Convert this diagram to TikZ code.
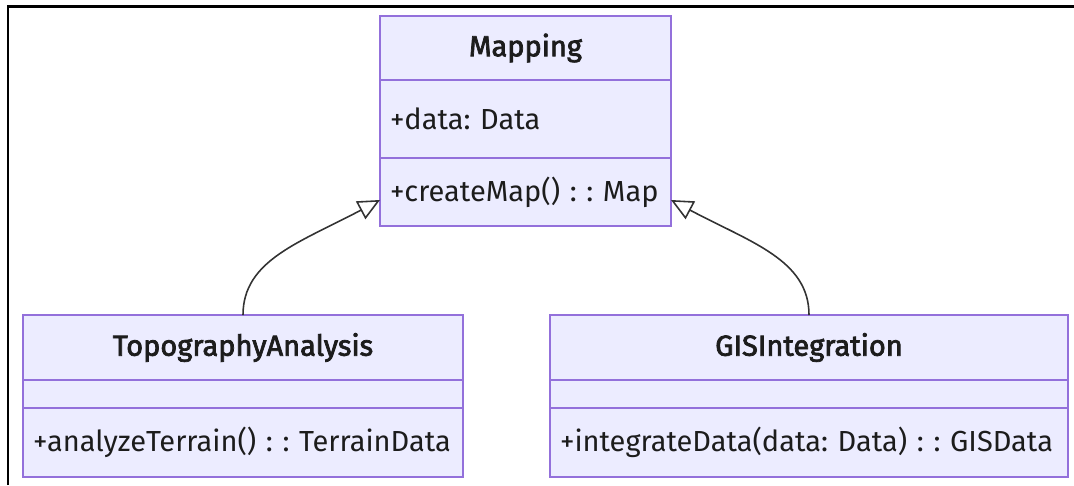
\documentclass[tikz,border=0pt]{standalone}
\usepackage{fontspec}
\setmainfont{Fira Sans}
\newfontfamily\titlefont{Fira Sans}[FakeBold=2.5]
\usepackage{tikz}
\usetikzlibrary{positioning, arrows.meta}

\definecolor{classfill}{HTML}{ECECFF}
\definecolor{classline}{HTML}{9370DB}
\definecolor{linkline}{HTML}{333333}
\definecolor{labeltext}{HTML}{1C1C1C}

\tikzset{
    part/.style={draw=classline, fill=classfill, line width=1pt, outer sep=0pt,
        inner xsep=0.2cm, inner ysep=0pt, text=labeltext,
        font=\fontsize{16.5}{19}\selectfont\frenchspacing},
    head/.style={part, align=center, font=\fontsize{16.5}{19}\selectfont\titlefont},
    body/.style={part, align=left},
    inherit/.style={draw=linkline, line width=0.9pt,
        -{Triangle[open, length=0.44cm, width=0.4cm, fill=white]}}
}

\begin{document}
\begin{tikzpicture}[x=0.02cm, y=-0.02cm]
    \useasboundingbox (0,0) rectangle (1074,485);

    % 1. Khung ngoài
    \draw[line width=0.06cm] (8,485) -- (8,6) -- (1074,6);

    % 2. Lớp Mapping
    \node[head, text width=5.42cm, minimum height=1.28cm] (mapHead) at (525.5,48) {Mapping};
    \node[body, text width=5.42cm, minimum height=1.56cm, below=0pt of mapHead] (mapAttr) {+data: Data};
    \node[body, text width=5.42cm, minimum height=1.36cm, below=0pt of mapAttr] (mapMeth) {+createMap() : : Map};

    % 3. Lớp TopographyAnalysis
    \node[head, text width=8.4cm, minimum height=1.3cm] (topoHead) at (243,347.5) {TopographyAnalysis};
    \node[body, text width=8.4cm, minimum height=0.56cm, below=0pt of topoHead] (topoAttr) {};
    \node[body, text width=8.4cm, minimum height=1.38cm, below=0pt of topoAttr] (topoMeth) {+analyzeTerrain() : : TerrainData};

    % 4. Lớp GISIntegration
    \node[head, text width=9.96cm, minimum height=1.3cm] (gisHead) at (809,347.5) {GISIntegration};
    \node[body, text width=9.96cm, minimum height=0.56cm, below=0pt of gisHead] (gisAttr) {};
    \node[body, text width=9.96cm, minimum height=1.38cm, below=0pt of gisAttr] (gisMeth) {+integrateData(data: Data) : : GISData};

    % 5. Quan hệ kế thừa
    \draw[inherit] (topoHead.north) .. controls +(0,1.1cm) and +(-1.6cm,-0.85cm) .. ([yshift=-0.16cm]mapMeth.west);
    \draw[inherit] (gisHead.north) .. controls +(0,1.1cm) and +(1.6cm,-0.85cm) .. ([yshift=-0.16cm]mapMeth.east);
\end{tikzpicture}
\end{document}
